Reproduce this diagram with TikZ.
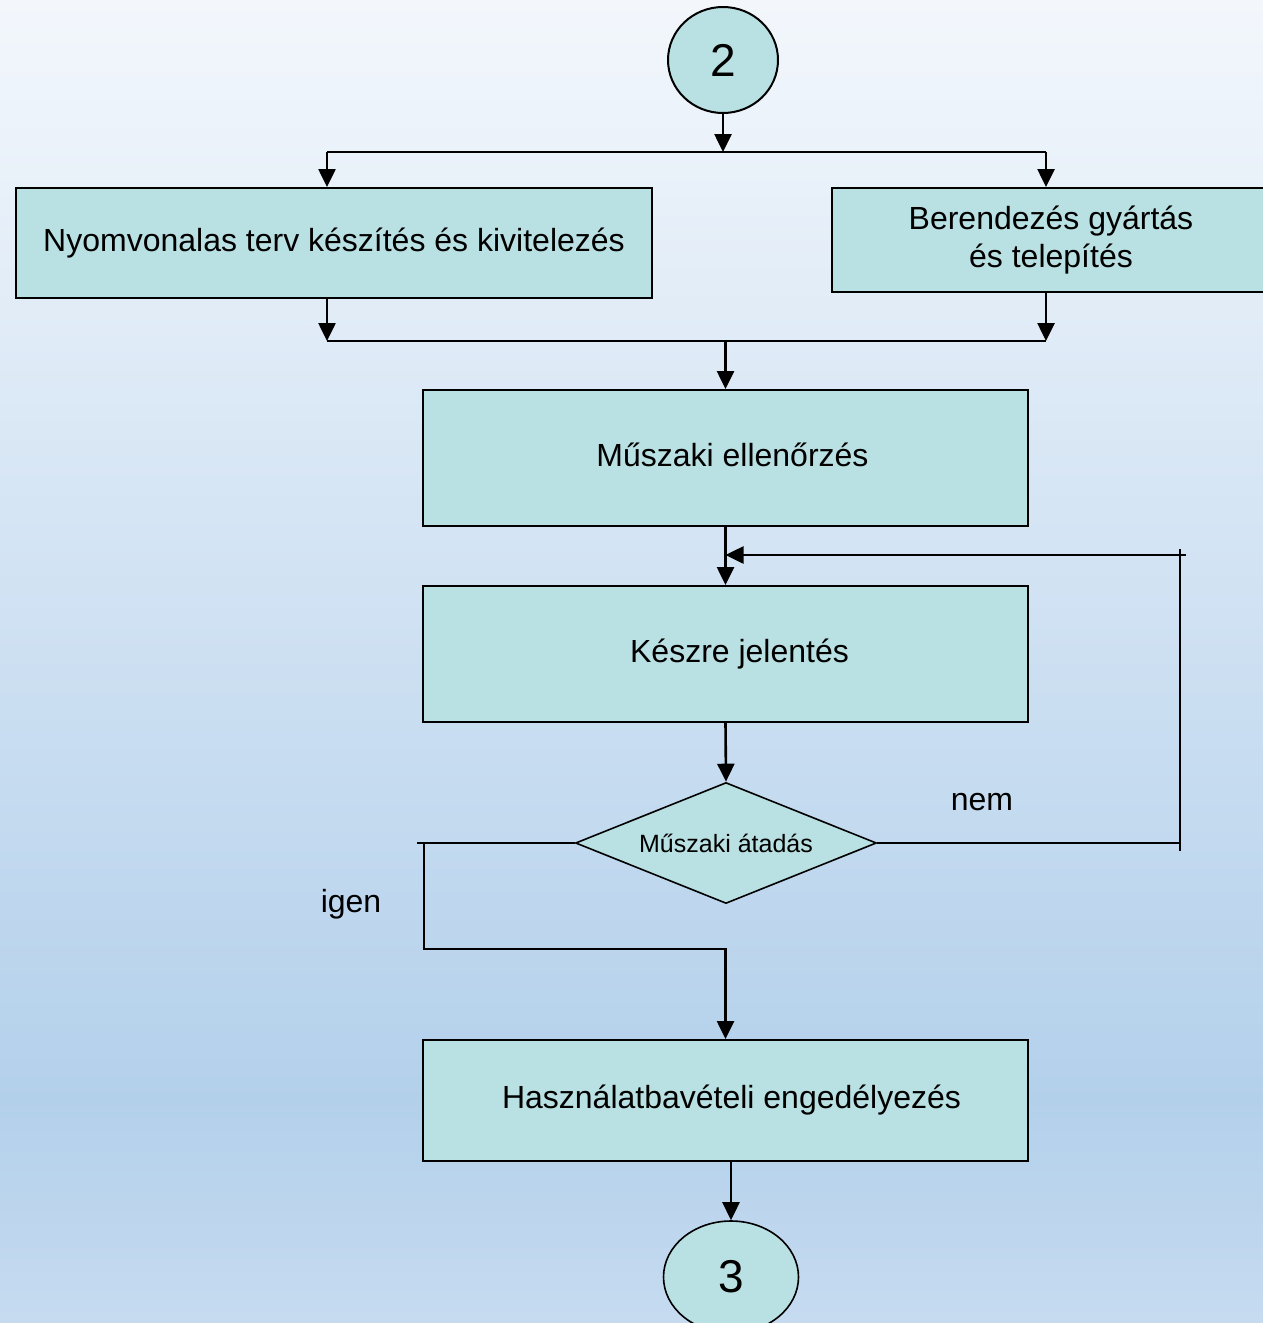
\documentclass[tikz,border=0pt]{standalone}
\usepackage{fontspec}
\setmainfont{Liberation Sans}
\usetikzlibrary{arrows.meta,shapes.geometric}
\definecolor{boxfill}{RGB}{185,224,226}
\definecolor{bgtop}{RGB}{243,247,252}
\definecolor{bgmid}{RGB}{179,208,235}
\definecolor{bgbot}{RGB}{198,219,240}

\begin{document}
\begin{tikzpicture}[x=0.5pt,y=-0.5pt,
    box/.style={rectangle,draw,line width=1pt,fill=boxfill,inner sep=0pt,
        font=\fontsize{16}{19}\selectfont,align=center},
    term/.style={ellipse,draw,line width=1pt,fill=boxfill,inner sep=0pt,
        font=\fontsize{23}{27}\selectfont},
    conn/.style={line width=1.3pt},
    arr/.style={conn,-{Triangle[width=8.5pt,length=9pt]}}]
    % background
    \fill[top color=bgtop,bottom color=bgmid] (0,0) rectangle (1263,1101);
    \fill[top color=bgmid,bottom color=bgbot] (0,1100) rectangle (1263,1323);
    \useasboundingbox (0,0) rectangle (1263,1323);
    \clip (0,0) rectangle (1263,1323);

    \node[term,minimum width=55pt,minimum height=53pt] (c2) at (723,60) {2};
    \node[box,minimum width=318pt,minimum height=55pt] (nyom) at (334,243) {Nyomvonalas terv készítés és kivitelezés};
    \node[box,minimum width=219pt,minimum height=52pt] (beren) at (1051,240) {Berendezés gyártás\\és telepítés};
    \node[box,minimum width=302.5pt,minimum height=68pt] (ell) at (725.5,458) {\raisebox{3.5pt}{\hspace*{7pt}Műszaki ellenőrzés}};
    \node[box,minimum width=302.5pt,minimum height=68pt] (kesz) at (725.5,654) {\hspace*{14pt}Készre jelentés};
    \node[diamond,aspect=2.5,draw,line width=0.8pt,fill=boxfill,inner sep=0pt,minimum width=150.5pt,minimum height=60.5pt,
        font=\fontsize{12.5}{15}\selectfont] (atad) at (726,843) {Műszaki átadás};
    \node[box,minimum width=302.5pt,minimum height=60.5pt] (haszn) at (725.5,1100.5) {\hspace*{6pt}Használatbavételi engedélyezés};
    \node[term,line width=0.8pt,minimum width=67.5pt,minimum height=56pt] (c3) at (731,1277) {3};

    \node[font=\fontsize{16}{19}\selectfont] (nem) at (982,802) {nem};
    \node[font=\fontsize{16}{19}\selectfont] (igen) at (351,904) {igen};

    % split
    \coordinate (sl) at (327,152);
    \coordinate (sr) at (1046,152);
    \draw[arr] (c2.south) -- (c2.south |- sl);
    \draw[conn] (sl) -- (sr);
    \draw[arr] (sl) -- (sl |- nyom.north);
    \draw[arr] (sr) -- (sr |- beren.north);

    % join
    \coordinate (jl) at (327,341);
    \coordinate (jr) at (1046,341);
    \draw[arr] (jl |- nyom.south) -- (jl);
    \draw[arr] (jr |- beren.south) -- (jr);
    \draw[conn] (jl) -- (jr);
    \draw[arr] (ell.north |- jl) -- (ell.north);

    \draw[arr] (ell.south) -- (kesz.north);
    \draw[arr] (kesz.south) -- (atad.north);

    % nem
    \coordinate (fbt) at (1180,555);
    \coordinate (fbb) at (1180,843);
    \draw[conn] (atad.east) -- (fbb);
    \draw[conn] ([yshift=3pt]fbt) -- ([yshift=-4pt]fbb);
    \draw[arr] ([xshift=3pt]fbt) -- (fbt -| kesz.north);

    % igen
    \coordinate (il) at (424,843);
    \coordinate (ib) at (424,949);
    \draw[conn] (atad.west) -- ([xshift=-3.5pt]il);
    \draw[arr] (il) -- (ib) -- (ib -| haszn.north) -- (haszn.north);

    \draw[arr] (c3.north |- haszn.south) -- (c3.north);
\end{tikzpicture}
\end{document}
